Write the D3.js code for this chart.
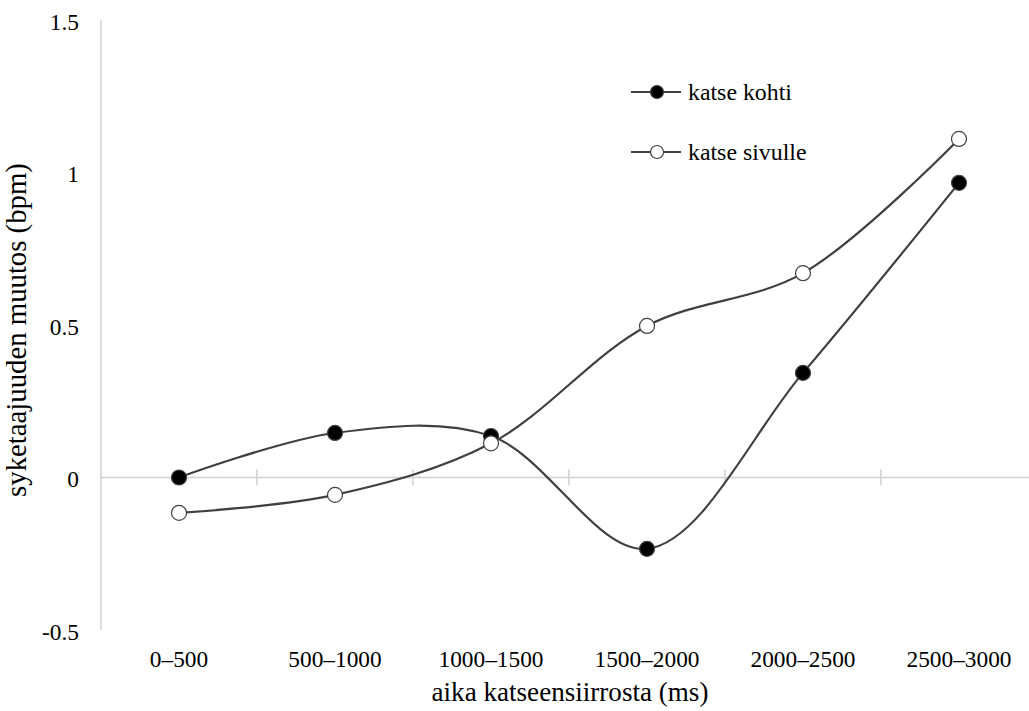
<!DOCTYPE html>
<html><head><meta charset="utf-8">
<script src="https://cdn.jsdelivr.net/npm/d3@7"></script>
<style>body{margin:0;background:#fff}svg{display:block}</style>
</head><body><svg width="1029" height="711"></svg>
<script>
const categories = ["0–500","500–1000","1000–1500","1500–2000","2000–2500","2500–3000"];
const seriesNames = ["katse kohti","katse sivulle"];
const kohti = [0.00, 0.146, 0.136, -0.234, 0.343, 0.966];
const sivulle = [-0.116, -0.057, 0.112, 0.497, 0.670, 1.110];
const yTicks = [-0.5, 0, 0.5, 1, 1.5];
const yTickLabels = ["-0.5","0","0.5","1","1.5"];

(function(){
const cands = ["Liberation Serif","Times New Roman","Tinos","DejaVu Serif","Noto Serif","FreeSerif","Nimbus Roman","Nimbus Roman No9 L","Times"];
const ctx = document.createElement("canvas").getContext("2d");
const probe = "aika katseensiirrosta (ms) 1000–1500 Wmli";
function w(f){ ctx.font = "40px " + f; return ctx.measureText(probe).width; }
let chosen = "serif";
for (const c of cands) {
  const a = w("'" + c + "', monospace"), b = w("monospace");
  const a2 = w("'" + c + "', sans-serif"), b2 = w("sans-serif");
  if (a !== b && a2 !== b2) { chosen = "'" + c + "'"; break; }
}
const FONT = chosen + ", serif";
const svg = d3.select("svg").attr("font-family", FONT);
const pL = 101, pR = 1037, pT = 20, pB = 630;
const x = d3.scaleBand().domain(categories).range([pL, pR]);
const y = d3.scaleLinear().domain([-0.5, 1.5]).range([pB, pT]);
const axisColor = "#d0d0d0";

function fit(sel, target, base) {
  const n = sel.node(); const len = n.getComputedTextLength();
  if (len > 0) sel.attr("font-size", base * target / len);
  return sel;
}

svg.append("line").attr("x1", pL).attr("x2", pL).attr("y1", y(1.5)).attr("y2", y(-0.5))
  .attr("stroke", axisColor).attr("stroke-width", 1.5);
svg.append("line").attr("x1", pL - 1).attr("x2", 1029).attr("y1", y(0)).attr("y2", y(0))
  .attr("stroke", axisColor).attr("stroke-width", 1.5);
categories.slice(1).forEach(c => {
  svg.append("line").attr("x1", x(c)).attr("x2", x(c)).attr("y1", y(0) - 8).attr("y2", y(0) + 8)
    .attr("stroke", axisColor).attr("stroke-width", 1.5);
});
// measure tick font size from a reference label width
const tmp = svg.append("text").attr("font-size", 20).text(categories[2]);
const tickSize = 20 * 105 / tmp.node().getComputedTextLength();
tmp.remove();
yTicks.forEach((t, i) => {
  svg.append("text").attr("x", 79).attr("y", y(t)).attr("dy", "0.42em")
    .attr("text-anchor", "end").attr("font-size", tickSize).text(yTickLabels[i]);
});
categories.forEach(c => {
  svg.append("text").attr("x", x(c) + x.bandwidth() / 2).attr("y", 667)
    .attr("text-anchor", "middle").attr("font-size", tickSize).text(c);
});
fit(svg.append("text").attr("x", 570).attr("y", 701).attr("text-anchor", "middle")
  .attr("font-size", 20).text("aika katseensiirrosta (ms)"), 277, 20);
fit(svg.append("text").attr("transform", "translate(26,330) rotate(-90)").attr("text-anchor", "middle")
  .attr("font-size", 20).text("syketaajuuden muutos (bpm)"), 334, 20);

const line = d3.line().x((d, i) => x(categories[i]) + x.bandwidth() / 2).y(d => y(d))
  .curve(d3.curveCatmullRom.alpha(0.5));
const series = [{name: seriesNames[0], values: kohti, fill: "#000"}, {name: seriesNames[1], values: sivulle, fill: "#fff"}];
const lineColor = "#404040";
series.forEach(s => {
  svg.append("path").attr("d", line(s.values)).attr("fill", "none").attr("stroke", lineColor).attr("stroke-width", 2.2);
});
series.forEach(s => {
  svg.selectAll(null).data(s.values).enter().append("circle")
    .attr("cx", (d, i) => x(categories[i]) + x.bandwidth() / 2).attr("cy", d => y(d)).attr("r", 7.5)
    .attr("fill", s.fill).attr("stroke", lineColor).attr("stroke-width", 1.2);
});
const tmp2 = svg.append("text").attr("font-size", 20).text(seriesNames[0]);
const legSize = 20 * 104 / tmp2.node().getComputedTextLength();
tmp2.remove();
series.forEach((s, i) => {
  const ly = 92 + i * 60;
  svg.append("line").attr("x1", 631).attr("x2", 681).attr("y1", ly).attr("y2", ly).attr("stroke", lineColor).attr("stroke-width", 2.2);
  svg.append("circle").attr("cx", 657).attr("cy", ly).attr("r", 6.5).attr("fill", s.fill).attr("stroke", lineColor).attr("stroke-width", 1.2);
  svg.append("text").attr("x", 688).attr("y", ly).attr("dy", "0.34em").attr("font-size", legSize).text(s.name);
});
})();
</script></body></html>
